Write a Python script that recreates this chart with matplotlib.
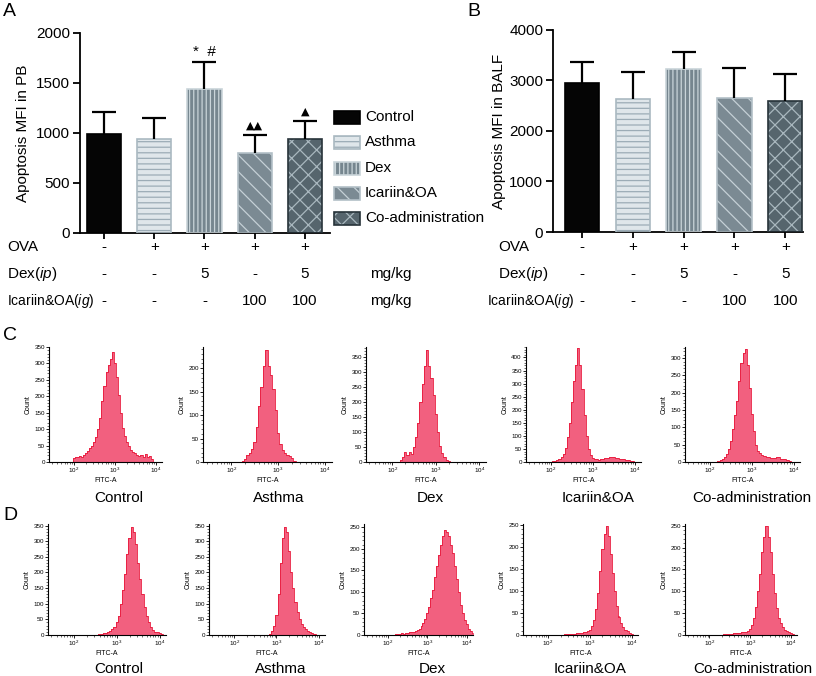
import numpy as np
import matplotlib
matplotlib.use("Agg")
import matplotlib.pyplot as plt
from matplotlib.patches import Rectangle
from matplotlib.transforms import blended_transform_factory
from matplotlib.ticker import MultipleLocator, LogLocator, NullFormatter

plt.rcParams['font.family'] = ['Liberation Sans', 'DejaVu Sans']
plt.rcParams['mathtext.fontset'] = 'custom'
plt.rcParams['mathtext.rm'] = 'Liberation Sans'
plt.rcParams['mathtext.it'] = 'Liberation Sans:italic'
plt.rcParams['hatch.linewidth'] = 0.9

# ---- data ----
groups = ['Control', 'Asthma', 'Dex', 'Icariin&OA', 'Co-administration']
pb_mean = [993, 938, 1440, 800, 937]
pb_err = [217, 214, 270, 177, 183]
balf_mean = [2946, 2642, 3229, 2656, 2603]
balf_err = [428, 534, 329, 586, 527]
ova_row = ['-', '+', '+', '+', '+']
dex_row = ['-', '-', '5', '-', '5']
ica_row = ['-', '-', '-', '100', '100']
pb_marks = ['', '', '*  #', '\u25b2\u25b2', '\u25b2']

# flow histograms: counts per 0.05-decade bin, starting at log10 value given
c_start = [2.00, 2.25, 2.20, 2.05, 2.20]
c_control = [12, 15, 14, 18, 16, 22, 28, 35, 42, 50, 60, 75, 100, 135, 185, 230, 275, 295,
             315, 335, 300, 260, 205, 150, 105, 80, 60, 48, 38, 30, 26, 20, 18, 22, 16, 24,
             14, 18, 8]
c_asthma = [2, 6, 14, 20, 28, 42, 75, 120, 160, 205, 238, 205, 185, 155, 110, 62, 38, 25,
            20, 14, 12, 9, 3]
c_dex = [8, 18, 32, 22, 35, 28, 50, 85, 130, 200, 260, 320, 375, 320, 280, 225, 160, 100,
         55, 30, 18, 8, 2]
c_icariin = [3, 5, 8, 12, 20, 32, 55, 95, 150, 230, 310, 370, 435, 370, 280, 180, 100, 50,
             25, 15, 12, 10, 9, 11, 12, 14, 16, 18, 20, 18, 16, 17, 13, 12, 10, 9, 7, 5, 3]
c_coadmin = [3, 6, 10, 15, 22, 38, 60, 95, 135, 175, 235, 285, 315, 325, 280, 215, 140, 90,
             50, 32, 25, 20, 17, 15, 14, 12, 12, 11, 13, 15, 10, 9, 8, 6, 3]

d_start = [2.55, 2.80, 2.20, 2.35, 2.30]
d_control = [1, 2, 3, 5, 7, 9, 12, 18, 26, 40, 62, 100, 145, 195, 260, 310, 345, 330, 290,
             230, 180, 130, 90, 60, 40, 25, 15, 10, 8, 5, 3, 1]
d_asthma = [1, 4, 12, 30, 65, 130, 230, 310, 345, 330, 270, 200, 150, 105, 75, 50, 35, 25,
            18, 12, 8, 5, 2]
d_dex = [2, 3, 3, 4, 3, 5, 4, 6, 7, 8, 10, 12, 15, 20, 28, 38, 50, 65, 85, 105, 135, 160,
         185, 210, 230, 245, 240, 230, 210, 190, 160, 130, 100, 70, 50, 35, 25, 15, 10, 4]
d_icariin = [1, 2, 2, 3, 2, 3, 3, 4, 4, 5, 6, 7, 9, 12, 20, 35, 60, 95, 145, 195, 230, 248,
             225, 185, 140, 100, 65, 42, 28, 18, 12, 8, 5, 3, 1]
d_coadmin = [1, 2, 2, 3, 3, 3, 4, 4, 5, 5, 6, 7, 8, 10, 14, 24, 40, 65, 100, 140, 190, 225,
             250, 225, 190, 140, 95, 62, 40, 27, 18, 12, 9, 6, 4, 2, 1]

W, H = 816, 676
fig = plt.figure(figsize=(W / 100, H / 100), dpi=100)

def fx(px):
    return px / W

def fy(py):
    return 1 - py / H

styles = [
    dict(face='#050505', hatch='', hcol='#050505', edge='#000000'),
    dict(face='#dfe6ea', hatch='---', hcol='#9cacb6', edge='#aab9c1'),
    dict(face='#76868f', hatch='||||', hcol='#c9d4d9', edge='#c9d4d9'),
    dict(face='#7b8a93', hatch='\\\\', hcol='#c5d0d6', edge='#b3c0c7'),
    dict(face='#56656d', hatch='xx', hcol='#a9b7be', edge='#27333a'),
]


def bar_panel(rect, means, errs, ymax, ystep, ylabel, xlim, label_coords):
    ax = fig.add_axes(rect)
    x = np.arange(len(means))
    tops = np.array(means) + np.array(errs)
    for i, st in enumerate(styles):
        ax.bar(x[i], means[i], width=0.68, color=st['face'], hatch=st['hatch'],
               edgecolor=st['hcol'], linewidth=0, zorder=2)
        ax.bar(x[i], means[i], width=0.68, fill=False, edgecolor=st['edge'],
               linewidth=1.2, zorder=3)
    # upper-only error bars
    ax.vlines(x, means, tops, color='black', linewidth=1.6, zorder=4)
    ax.plot(x, tops, linestyle='none', marker='_', markersize=17, markeredgewidth=1.6,
            color='black', zorder=4)
    ax.set_xlim(*xlim)
    ax.set_ylim(0, ymax)
    ax.yaxis.set_major_locator(MultipleLocator(ystep))
    ax.set_xticks(x)
    ax.set_xticklabels([])
    ax.tick_params(axis='y', labelsize=11, length=5, width=1.3, pad=2)
    ax.tick_params(axis='x', length=4, width=1.3)
    for s in ['top', 'right']:
        ax.spines[s].set_visible(False)
    for s in ['left', 'bottom']:
        ax.spines[s].set_linewidth(1.3)
    ax.set_ylabel(ylabel, fontsize=11)
    ax.yaxis.set_label_coords(*label_coords)
    return ax


def rows(ax, label_x, ica_x, unit):
    tr = blended_transform_factory(ax.transData, fig.transFigure)
    names = ['OVA', r'Dex($\mathit{ip}$)', r'Icariin&OA($\mathit{ig}$)']
    ys = [247, 274, 301]
    lx = [label_x, label_x, ica_x]
    sizes = [11, 11, 10]
    for name, py, px, fs in zip(names, ys, lx, sizes):
        fig.text(fx(px), fy(py), name, fontsize=fs, ha='left', va='center')
    for vals, py in zip([ova_row, dex_row, ica_row], ys):
        for i, v in enumerate(vals):
            ax.text(i, fy(py), v, transform=tr, fontsize=11, ha='center', va='center')
    if unit:
        fig.text(fx(370), fy(274), 'mg/kg', fontsize=11, ha='left', va='center')
        fig.text(fx(370), fy(301), 'mg/kg', fontsize=11, ha='left', va='center')


axA = bar_panel([fx(80), fy(233), 250 / W, 200 / H], pb_mean, pb_err, 2000, 500,
                'Apoptosis MFI in PB', (-0.48, 4.5), (-0.2, 0.5))
for i, m in enumerate(pb_marks):
    if m:
        fam = ['Liberation Sans'] if '*' in m else ['DejaVu Sans']
        axA.text(i, pb_mean[i] + pb_err[i] + 95, m, ha='center', va='center',
                 fontsize=11 if '*' in m else 8, family=fam)
rows(axA, 7, 7, True)

axB = bar_panel([fx(553), fy(232), 250 / W, 202 / H], balf_mean, balf_err, 4000, 1000,
                'Apoptosis MFI in BALF', (-0.57, 4.35), (-0.19, 0.5))
rows(axB, 498, 487, False)

# overlay axes in pixel coordinates for legend and panel letters
ov = fig.add_axes([0, 0, 1, 1])
ov.set_xlim(0, W)
ov.set_ylim(H, 0)
ov.axis('off')
for st, name, yc in zip(styles, groups, [117, 142, 168, 193, 218]):
    ov.add_patch(Rectangle((334, yc - 6.5), 26, 13, facecolor=st['face'], hatch=st['hatch'],
                           edgecolor=st['hcol'], linewidth=0))
    ov.add_patch(Rectangle((334, yc - 6.5), 26, 13, fill=False, edgecolor=st['edge'],
                           linewidth=1.2))
    ov.text(365, yc, name, fontsize=11, ha='left', va='center')

for letter, (px, py) in zip('ABCD', [(3, 12), (467, 12), (3, 335), (3, 516)]):
    ov.text(px, py, letter, fontsize=14, ha='left', va='center')


def hist_panel(left, top, width, height, start, counts, ymax):
    ax = fig.add_axes([fx(left), fy(top + height), width / W, height / H])
    c = np.concatenate([[0], counts, [0]])
    logx = start - 0.05 + 0.05 * np.arange(len(c))
    x = 10 ** logx
    ax.fill_between(x, c, step='mid', color='#f2607f', linewidth=0)
    ax.step(x, c, where='mid', color='#e8183a', linewidth=0.6)
    ax.set_xscale('log')
    ax.set_xlim(10 ** 1.4, 10 ** 4.15)
    ax.set_ylim(0, ymax)
    ax.yaxis.set_major_locator(MultipleLocator(50))
    ax.yaxis.set_minor_locator(MultipleLocator(10))
    ax.xaxis.set_major_locator(LogLocator(base=10))
    ax.xaxis.set_minor_locator(LogLocator(base=10, subs=np.arange(2, 10)))
    ax.xaxis.set_minor_formatter(NullFormatter())
    ax.tick_params(which='major', labelsize=4.5, length=2, width=0.6, pad=1)
    ax.tick_params(which='minor', length=1.2, width=0.4)
    for s in ['top', 'right']:
        ax.spines[s].set_visible(False)
    for s in ['left', 'bottom']:
        ax.spines[s].set_linewidth(0.8)
    ax.set_ylabel('Count', fontsize=5, labelpad=2)
    ax.set_xlabel('FITC-A', fontsize=5, labelpad=1)
    return ax


c_hists = [c_control, c_asthma, c_dex, c_icariin, c_coadmin]
d_hists = [d_control, d_asthma, d_dex, d_icariin, d_coadmin]
c_geom = [(49, 113), (203, 129), (366, 120), (526, 115), (685, 115)]
d_geom = [(48, 118), (209, 116), (364, 109), (523, 115), (685, 112)]
c_ymax = [350, 245, 385, 440, 332]
d_ymax = [355, 355, 258, 252, 254]
c_label_x = [119, 279, 430, 598, 752]
d_label_x = [119, 281, 432, 590, 753]

for i in range(5):
    left, width = c_geom[i]
    hist_panel(left, 347, width, 115, c_start[i], c_hists[i], c_ymax[i])
    ov.text(c_label_x[i], 498, groups[i], fontsize=11, ha='center', va='center')
    left, width = d_geom[i]
    hist_panel(left, 524, width, 111, d_start[i], d_hists[i], d_ymax[i])
    ov.text(d_label_x[i], 669, groups[i], fontsize=11, ha='center', va='center')

fig.savefig('out.png', dpi=100)
